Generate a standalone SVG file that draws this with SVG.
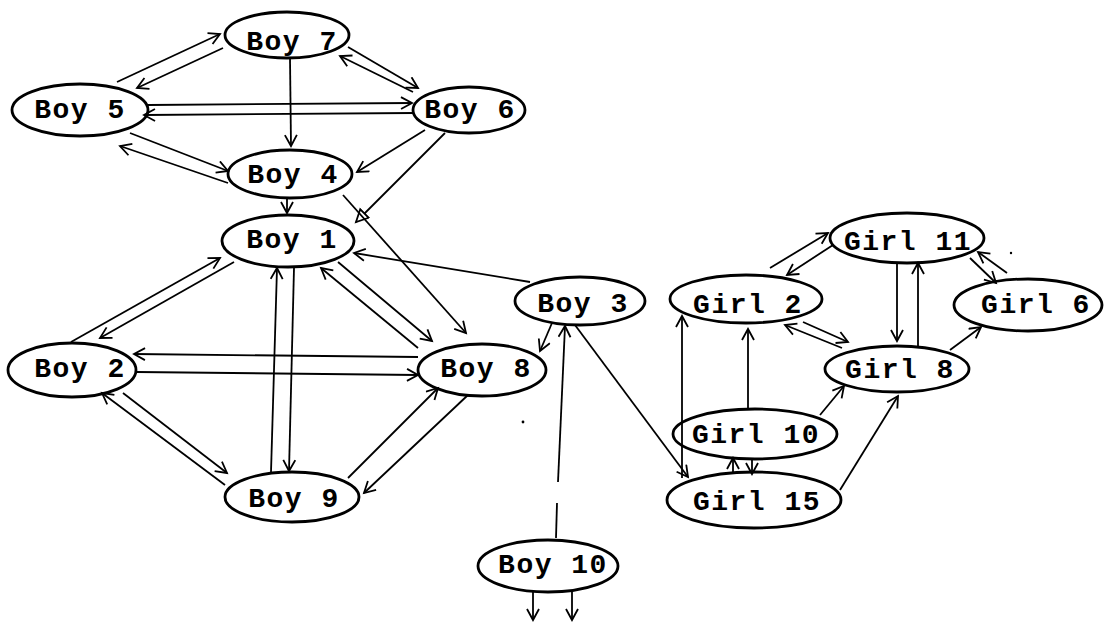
<svg xmlns="http://www.w3.org/2000/svg" width="1105" height="630" viewBox="0 0 1105 630">
<style>
.n ellipse{fill:#fff;stroke:#000;stroke-width:2.8}
.n text{font-family:"Liberation Mono","DejaVu Sans Mono",monospace;font-size:28px;font-weight:bold;letter-spacing:1.5px;text-anchor:middle;fill:#000}
.e line,.e path{stroke:#000;stroke-width:1.8;fill:none}
</style>
<defs>
<marker id="a" markerUnits="userSpaceOnUse" markerWidth="16" markerHeight="16" refX="12" refY="7" orient="auto">
<path d="M1,1 L12,7 L1,13" fill="none" stroke="#000" stroke-width="1.8"/>
</marker>
<marker id="t" markerUnits="userSpaceOnUse" markerWidth="16" markerHeight="16" refX="13" refY="7" orient="auto">
<path d="M1,1 L13,7 L1,13 Z" fill="#fff" stroke="#000" stroke-width="1.8"/>
</marker>
</defs>
<rect width="1105" height="630" fill="#fff"/>
<g id="nodes">
<g id="boy7" class="n"><ellipse cx="287" cy="35" rx="62" ry="23"/><text x="292" y="50">Boy 7</text></g>
<g id="boy5" class="n"><ellipse cx="80" cy="110" rx="68" ry="26"/><text x="80" y="118">Boy 5</text></g>
<g id="boy6" class="n"><ellipse cx="469" cy="110" rx="56" ry="23"/><text x="470" y="118">Boy 6</text></g>
<g id="boy4" class="n"><ellipse cx="290" cy="174" rx="62" ry="24"/><text x="293" y="183">Boy 4</text></g>
<g id="boy1" class="n"><ellipse cx="288" cy="241" rx="66" ry="26"/><text x="292" y="248">Boy 1</text></g>
<g id="boy2" class="n"><ellipse cx="72" cy="370" rx="64" ry="27"/><text x="80" y="377">Boy 2</text></g>
<g id="boy8" class="n"><ellipse cx="482" cy="370" rx="64" ry="26"/><text x="486" y="377">Boy 8</text></g>
<g id="boy9" class="n"><ellipse cx="292" cy="497" rx="67" ry="25"/><text x="294" y="507">Boy 9</text></g>
<g id="boy3" class="n"><ellipse cx="580" cy="301" rx="65" ry="24"/><text x="583" y="312">Boy 3</text></g>
<g id="boy10" class="n"><ellipse cx="548" cy="566" rx="70" ry="26"/><text x="553" y="573">Boy 10</text></g>
<g id="girl11" class="n"><ellipse cx="907" cy="238" rx="77" ry="25"/><text x="908" y="250">Girl 11</text></g>
<g id="girl2" class="n"><ellipse cx="746" cy="299" rx="76" ry="24"/><text x="748" y="313">Girl 2</text></g>
<g id="girl6" class="n"><ellipse cx="1028" cy="305" rx="74" ry="26"/><text x="1036" y="313">Girl 6</text></g>
<g id="girl8" class="n"><ellipse cx="897" cy="369" rx="72" ry="23"/><text x="900" y="378">Girl 8</text></g>
<g id="girl10" class="n"><ellipse cx="755" cy="434" rx="82" ry="25"/><text x="756" y="443">Girl 10</text></g>
<g id="girl15" class="n"><ellipse cx="754" cy="500" rx="87" ry="28"/><text x="757" y="510">Girl 15</text></g>
</g>
<g id="connectors" class="e">
<line x1="117" y1="82" x2="220" y2="34" marker-end="url(#a)"/>
<line x1="223" y1="48" x2="137" y2="88" marker-end="url(#a)"/>
<line x1="290" y1="58" x2="291" y2="146" marker-end="url(#a)"/>
<line x1="413" y1="92" x2="340" y2="56" marker-end="url(#a)"/>
<line x1="348" y1="47" x2="418" y2="88" marker-end="url(#a)"/>
<line x1="148" y1="105" x2="412" y2="103" marker-end="url(#a)"/>
<line x1="414" y1="113" x2="144" y2="115" marker-end="url(#a)"/>
<line x1="228" y1="183" x2="120" y2="146" marker-end="url(#a)"/>
<line x1="130" y1="133" x2="228" y2="171" marker-end="url(#a)"/>
<line x1="425" y1="130" x2="357" y2="172" marker-end="url(#a)"/>
<line x1="445" y1="133" x2="356" y2="222" marker-end="url(#t)"/>
<line x1="287" y1="198" x2="287" y2="213" marker-end="url(#a)"/>
<line x1="343" y1="195" x2="466" y2="333" marker-end="url(#a)"/>
<line x1="71" y1="342" x2="220" y2="258" marker-end="url(#a)"/>
<line x1="234" y1="262" x2="100" y2="338" marker-end="url(#a)"/>
<line x1="271" y1="472" x2="277" y2="268" marker-end="url(#a)"/>
<line x1="294" y1="268" x2="289" y2="471" marker-end="url(#a)"/>
<line x1="418" y1="348" x2="321" y2="268" marker-end="url(#a)"/>
<line x1="338" y1="262" x2="432" y2="341" marker-end="url(#a)"/>
<line x1="418" y1="357" x2="134" y2="354" marker-end="url(#a)"/>
<line x1="137" y1="372" x2="418" y2="375" marker-end="url(#a)"/>
<line x1="123" y1="393" x2="227" y2="473" marker-end="url(#a)"/>
<line x1="225" y1="485" x2="102" y2="393" marker-end="url(#a)"/>
<line x1="348" y1="478" x2="438" y2="388" marker-end="url(#a)"/>
<line x1="468" y1="395" x2="364" y2="493" marker-end="url(#a)"/>
<line x1="530" y1="282" x2="354" y2="253" marker-end="url(#a)"/>
<line x1="552" y1="323" x2="540" y2="351" marker-end="url(#a)"/>
<line x1="556" y1="538" x2="557" y2="503"/>
<line x1="558" y1="482" x2="565" y2="326" marker-end="url(#a)"/>
<line x1="575" y1="325" x2="688" y2="477" marker-end="url(#a)"/>
<line x1="533" y1="592" x2="533" y2="620" marker-end="url(#a)"/>
<line x1="572" y1="592" x2="572" y2="620" marker-end="url(#a)"/>
<line x1="770" y1="268" x2="828" y2="233" marker-end="url(#a)"/>
<line x1="833" y1="245" x2="787" y2="275" marker-end="url(#a)"/>
<line x1="897" y1="263" x2="897" y2="341" marker-end="url(#a)"/>
<line x1="918" y1="347" x2="918" y2="263" marker-end="url(#a)"/>
<line x1="970" y1="258" x2="996" y2="283" marker-end="url(#a)"/>
<line x1="1007" y1="273" x2="978" y2="252" marker-end="url(#a)"/>
<line x1="950" y1="350" x2="981" y2="327" marker-end="url(#a)"/>
<line x1="842" y1="348" x2="785" y2="325" marker-end="url(#a)"/>
<line x1="803" y1="322" x2="848" y2="342" marker-end="url(#a)"/>
<line x1="748" y1="408" x2="748" y2="329" marker-end="url(#a)"/>
<line x1="820" y1="415" x2="844" y2="386" marker-end="url(#a)"/>
<line x1="840" y1="490" x2="898" y2="396" marker-end="url(#a)"/>
<line x1="682" y1="478" x2="682" y2="316" marker-end="url(#a)"/>
<line x1="733" y1="473" x2="733" y2="458" marker-end="url(#a)"/>
<line x1="752" y1="458" x2="752" y2="474" marker-end="url(#a)"/>
</g>
<circle cx="523" cy="422" r="1.4" fill="#000"/>
<circle cx="1011" cy="253" r="1.2" fill="#000"/>
</svg>
